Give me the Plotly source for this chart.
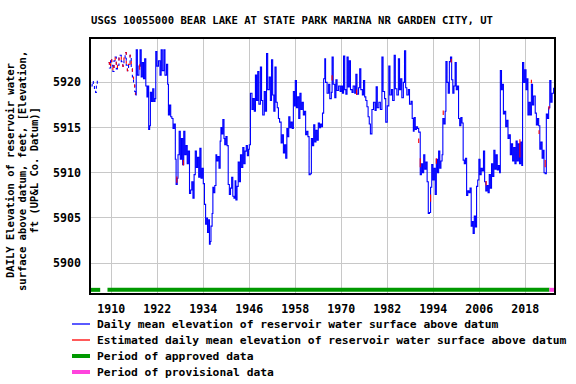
import plotly.graph_objects as go

# ---------------- data ----------------
title_text = "USGS 10055000 BEAR LAKE AT STATE PARK MARINA NR GARDEN CITY, UT"
ylab_lines = ["DAILY Elevation of reservoir water",
              "surface above datum, feet, [Elevation,",
              "ft (UP&L Co. Datum)]"]
legend_labels = ["Daily mean elevation of reservoir water surface above datum",
                 "Estimated daily mean elevation of reservoir water surface above datum",
                 "Period of approved data",
                 "Period of provisional data"]
x_ticks = [1910, 1922, 1934, 1946, 1958, 1970, 1982, 1994, 2006, 2018]
y_ticks = [5900, 5905, 5910, 5915, 5920]

# early sparse record (year, elevation ft)
early_a = [(1904.8, 5919.6), (1905.0, 5920.1), (1905.3, 5919.8), (1905.6, 5919.2),
           (1905.9, 5918.9), (1906.1, 5919.6), (1906.35, 5920.4)]
early_b = [(1909.3, 5922.2), (1909.5, 5921.6), (1909.8, 5922.6), (1910.1, 5921.9),
           (1910.4, 5921.2), (1910.7, 5922.4), (1911.0, 5922.8), (1911.3, 5921.5),
           (1911.6, 5921.9), (1912.0, 5922.7), (1912.3, 5923.0), (1912.6, 5922.3),
           (1913.0, 5921.8), (1913.3, 5922.7), (1913.6, 5923.3), (1913.9, 5921.9),
           (1914.2, 5921.3), (1914.5, 5922.0), (1914.9, 5923.0), (1915.2, 5921.5),
           (1915.5, 5920.6), (1915.8, 5919.7), (1916.1, 5919.0), (1916.3, 5918.6)]

# continuous daily-mean record
main = [
    (1916.3, 5918.6), (1916.5, 5923.6), (1916.8, 5920.8), (1917.2, 5921.8), (1917.5, 5923.6),
    (1917.8, 5920.6), (1918.1, 5922.2), (1918.4, 5920.4), (1918.7, 5922.6), (1919.0, 5919.6),
    (1919.3, 5918.4), (1919.5, 5919.6), (1919.75, 5914.8), (1920.0, 5915.2), (1920.2, 5918.9),
    (1920.5, 5917.9), (1920.8, 5919.3), (1921.1, 5917.9), (1921.4, 5918.2), (1921.6, 5923.4),
    (1921.9, 5921.8), (1922.3, 5922.4), (1922.7, 5920.8), (1923.0, 5923.6), (1923.3, 5921.3),
    (1923.7, 5923.6), (1924.0, 5920.8), (1924.4, 5922.0), (1924.7, 5919.8),
    (1924.9, 5916.4), (1925.2, 5917.5), (1925.5, 5916.2), (1925.8, 5916.0), (1926.1, 5914.9),
    (1926.4, 5915.4), (1926.7, 5911.5), (1926.9, 5908.7), (1927.2, 5909.4), (1927.4, 5912.0),
    (1927.7, 5914.6), (1928.0, 5911.5), (1928.3, 5913.8), (1928.6, 5910.9), (1928.9, 5914.6),
    (1929.2, 5912.0), (1929.5, 5913.0), (1929.8, 5911.0), (1930.1, 5912.4), (1930.4, 5907.7),
    (1930.7, 5908.1), (1931.0, 5909.0), (1931.3, 5907.2), (1931.6, 5909.8), (1931.9, 5912.4),
    (1932.2, 5910.6), (1932.5, 5911.7), (1932.8, 5909.5), (1933.1, 5912.7), (1933.4, 5909.4),
    (1933.7, 5910.5), (1934.0, 5908.8), (1934.3, 5906.5), (1934.6, 5904.3), (1934.9, 5905.0),
    (1935.1, 5903.4), (1935.4, 5904.8), (1935.6, 5902.1), (1935.8, 5902.4), (1936.0, 5904.1),
    (1936.3, 5905.5), (1936.5, 5908.4), (1936.7, 5907.8), (1937.0, 5908.6), (1937.3, 5912.0),
    (1937.5, 5911.3), (1937.8, 5911.8), (1938.1, 5910.5), (1938.4, 5913.5), (1938.6, 5915.0),
    (1938.8, 5914.3), (1939.1, 5915.9), (1939.4, 5913.8), (1939.6, 5913.1), (1939.9, 5914.0),
    (1940.2, 5913.0), (1940.5, 5908.7), (1940.8, 5907.6), (1941.1, 5908.3), (1941.4, 5909.5),
    (1941.7, 5907.4), (1942.0, 5907.2), (1942.3, 5909.1), (1942.5, 5907.0), (1942.8, 5908.5),
    (1943.1, 5911.2), (1943.4, 5909.0), (1943.7, 5912.0), (1944.0, 5910.6), (1944.3, 5912.8),
    (1944.6, 5911.0), (1944.9, 5912.4), (1945.2, 5913.0), (1945.5, 5911.9), (1945.8, 5912.6),
    (1946.0, 5913.1), (1946.3, 5918.8), (1946.7, 5917.0), (1947.0, 5918.2), (1947.3, 5916.8),
    (1947.6, 5920.8), (1947.9, 5918.0), (1948.2, 5921.2), (1948.5, 5917.6), (1948.9, 5921.7),
    (1949.2, 5918.0), (1949.5, 5916.4), (1949.9, 5919.0), (1950.2, 5916.8), (1950.5, 5923.2),
    (1950.8, 5919.2), (1951.2, 5920.6), (1951.5, 5918.0), (1951.8, 5922.5), (1952.1, 5918.6),
    (1952.4, 5916.8), (1952.7, 5921.7), (1953.0, 5917.8), (1953.3, 5917.2), (1953.6, 5916.0),
    (1953.9, 5915.6), (1954.3, 5913.3), (1954.6, 5914.2), (1954.9, 5912.2),
    (1955.2, 5913.1), (1955.5, 5911.6), (1955.8, 5914.9), (1956.0, 5914.0), (1956.3, 5916.2),
    (1956.6, 5915.0), (1956.9, 5915.6), (1957.2, 5914.9), (1957.5, 5919.0), (1957.8, 5917.4),
    (1958.0, 5920.2), (1958.3, 5917.2), (1958.6, 5918.4), (1958.9, 5916.0), (1959.2, 5918.8),
    (1959.5, 5917.0), (1959.8, 5917.8), (1960.1, 5916.4), (1960.4, 5916.8), (1960.7, 5914.2),
    (1961.0, 5914.6), (1961.3, 5914.0), (1961.6, 5909.8), (1961.9, 5909.9), (1962.2, 5913.8),
    (1962.5, 5913.0), (1962.8, 5915.3), (1963.1, 5913.4), (1963.4, 5914.7), (1963.7, 5913.6),
    (1964.0, 5915.5), (1964.3, 5915.0), (1964.6, 5915.4), (1964.9, 5915.1), (1965.1, 5916.6),
    (1965.4, 5920.4), (1965.7, 5922.6), (1965.9, 5920.0), (1966.3, 5918.8), (1966.7, 5919.8),
    (1967.0, 5918.2), (1967.4, 5918.9), (1967.6, 5922.8), (1967.9, 5919.8), (1968.3, 5918.3),
    (1968.6, 5920.3), (1968.9, 5919.1), (1969.3, 5919.6), (1969.7, 5919.0), (1970.0, 5919.6),
    (1970.3, 5918.8), (1970.6, 5922.9), (1970.9, 5919.2), (1971.2, 5918.7), (1971.5, 5922.8),
    (1971.8, 5919.5), (1972.1, 5922.4), (1972.4, 5919.2), (1972.8, 5918.9), (1973.1, 5919.6),
    (1973.5, 5918.8), (1973.8, 5920.9), (1974.1, 5918.7), (1974.5, 5919.4), (1974.8, 5921.5),
    (1975.1, 5919.2), (1975.5, 5918.6), (1975.8, 5920.2), (1976.1, 5918.4), (1976.4, 5918.0),
    (1976.7, 5917.3), (1977.0, 5916.2), (1977.3, 5915.4), (1977.6, 5914.3), (1978.0, 5917.0),
    (1978.4, 5917.8), (1978.8, 5916.9), (1979.1, 5919.5), (1979.4, 5917.2), (1979.8, 5917.8),
    (1980.2, 5917.0), (1980.6, 5922.8), (1980.9, 5919.0), (1981.3, 5918.2), (1981.6, 5915.6),
    (1982.0, 5917.4), (1982.4, 5921.8), (1982.7, 5918.6), (1983.1, 5919.2), (1983.4, 5918.0),
    (1983.8, 5923.0), (1984.1, 5919.3), (1984.5, 5918.6), (1984.9, 5922.6), (1985.2, 5919.2),
    (1985.5, 5920.4), (1985.8, 5918.3), (1986.2, 5920.0), (1986.5, 5923.5), (1986.8, 5919.4),
    (1987.1, 5918.6), (1987.5, 5919.2), (1987.8, 5917.6), (1988.2, 5917.9), (1988.5, 5916.0),
    (1988.8, 5914.6), (1989.0, 5916.1), (1989.3, 5914.8), (1989.6, 5915.1), (1989.9, 5914.9),
    (1990.2, 5914.5), (1990.6, 5909.8), (1990.9, 5911.0), (1991.2, 5910.0), (1991.5, 5912.0),
    (1991.8, 5910.4), (1992.1, 5911.2), (1992.4, 5909.0), (1992.7, 5905.5), (1993.0, 5905.6),
    (1993.3, 5908.4), (1993.6, 5910.9), (1993.9, 5909.2), (1994.2, 5910.5), (1994.5, 5907.6),
    (1994.8, 5911.5), (1995.1, 5910.0), (1995.4, 5912.4), (1995.7, 5910.5), (1996.0, 5911.3),
    (1996.3, 5912.0), (1996.5, 5916.0), (1996.8, 5915.4), (1997.1, 5916.8), (1997.3, 5922.3),
    (1997.6, 5920.0), (1997.9, 5918.8), (1998.2, 5922.3), (1998.5, 5922.8), (1998.8, 5920.3),
    (1999.1, 5918.8), (1999.4, 5919.6), (1999.7, 5922.2), (2000.0, 5919.2), (2000.3, 5919.6),
    (2000.6, 5916.0), (2000.9, 5915.2), (2001.2, 5916.1), (2001.5, 5915.5), (2001.8, 5911.4),
    (2002.1, 5911.0), (2002.4, 5911.6), (2002.7, 5907.5), (2003.0, 5908.0), (2003.3, 5907.8),
    (2003.6, 5908.3), (2003.9, 5904.1), (2004.2, 5904.6), (2004.4, 5903.3), (2004.7, 5905.2),
    (2005.0, 5904.0), (2005.3, 5908.5), (2005.6, 5909.2), (2005.9, 5911.5), (2006.2, 5909.8),
    (2006.5, 5910.5), (2006.8, 5910.2), (2007.1, 5912.4), (2007.4, 5909.0), (2007.7, 5908.0),
    (2008.0, 5908.6), (2008.3, 5907.8), (2008.6, 5909.8), (2008.9, 5908.3), (2009.2, 5911.0),
    (2009.5, 5909.6), (2009.8, 5912.5), (2010.1, 5910.4), (2010.4, 5912.0), (2010.7, 5910.3),
    (2011.0, 5910.8), (2011.3, 5910.0), (2011.5, 5921.3), (2011.8, 5919.2), (2012.0, 5919.8),
    (2012.3, 5916.5), (2012.6, 5916.8), (2012.9, 5915.1), (2013.2, 5915.8), (2013.5, 5913.8),
    (2013.8, 5914.2), (2014.1, 5912.0), (2014.4, 5913.2), (2014.7, 5911.3), (2015.0, 5912.8),
    (2015.3, 5911.0), (2015.6, 5913.5), (2015.9, 5911.3), (2016.2, 5913.2), (2016.5, 5911.0),
    (2016.8, 5913.4), (2017.1, 5910.8), (2017.3, 5922.2), (2017.6, 5920.0), (2017.9, 5921.4),
    (2018.2, 5919.2), (2018.5, 5920.4), (2018.7, 5916.4), (2019.0, 5917.8), (2019.3, 5916.4),
    (2019.6, 5919.8), (2019.9, 5917.5), (2020.2, 5918.5), (2020.6, 5916.6), (2020.9, 5915.3),
    (2021.2, 5916.0), (2021.5, 5915.2), (2021.8, 5912.6), (2022.1, 5913.4), (2022.4, 5911.6),
    (2022.7, 5912.5), (2022.9, 5910.0), (2023.2, 5909.9), (2023.5, 5916.5), (2023.8, 5916.0),
    (2024.1, 5917.2), (2024.4, 5920.2), (2024.7, 5917.8), (2025.0, 5918.8), (2025.4, 5919.4),
]

# estimated (red) short segments outside the early record: (year, low, high)
estimated_marks = [(1917.4, 5921.4, 5922.0), (1927.1, 5908.9, 5909.6), (1928.8, 5910.8, 5911.4),
                   (1967.6, 5920.2, 5920.8), (1974.0, 5918.6, 5919.2), (1990.2, 5913.3, 5913.8),
                   (1990.6, 5910.6, 5911.6), (1993.3, 5906.8, 5907.6), (1994.8, 5911.0, 5911.6),
                   (1996.6, 5916.4, 5916.9), (1998.7, 5922.2, 5922.6), (2007.8, 5908.6, 5909.1),
                   (2016.6, 5911.7, 5913.7), (2019.6, 5919.9, 5920.3), (2021.6, 5914.3, 5914.7),
                   (2023.2, 5910.6, 5911.4), (2024.2, 5917.0, 5917.4)]

approved_periods = [(1904.2, 1907.1), (1909.0, 2024.3)]
provisional_periods = [(2024.3, 2025.6)]
period_level = 5897.05

# ---------------- build figure ----------------
BLUE, RED, GREEN, MAG = "#0000ff", "#ff0000", "#009900", "#ff44dd"
FONT = "DejaVu Sans Mono"
W, H = 576, 384
L, R, T, B = 91, 22, 39, 91
PW, PH = W - L - R, H - T - B


def pxx(px):
    return (px - L) / PW


def pxy(py):
    return (H - B - py) / PH


def unzip(pairs):
    return [p[0] for p in pairs], [p[1] for p in pairs]


fig = go.Figure()
ax, ay = unzip(early_a)
bx, by = unzip(early_b)
mx, my = unzip(main)

fig.add_trace(go.Scatter(x=ax + [None] + bx, y=ay + [None] + by, mode="lines",
                         line=dict(color=BLUE, width=1.1, dash="dot", shape="hv"),
                         showlegend=False, hoverinfo="skip"))
fig.add_trace(go.Scatter(x=bx, y=by, mode="lines",
                         line=dict(color=RED, width=1.1, dash="3px,6px", shape="hv"),
                         showlegend=False, hoverinfo="skip"))
fig.add_trace(go.Scatter(x=mx, y=my, mode="lines",
                         line=dict(color=BLUE, width=1.1, shape="hv"),
                         showlegend=False, hoverinfo="skip"))
rx, ry = [], []
for t, lo, hi in estimated_marks:
    rx += [t, t, None]
    ry += [lo, hi, None]
fig.add_trace(go.Scatter(x=rx, y=ry, mode="lines", line=dict(color=RED, width=1.1),
                         showlegend=False, hoverinfo="skip"))
gx, gy = [], []
for s, e in approved_periods:
    gx += [s, e, None]
    gy += [period_level, period_level, None]
fig.add_trace(go.Scatter(x=gx, y=gy, mode="lines", line=dict(color=GREEN, width=4),
                         showlegend=False, hoverinfo="skip", cliponaxis=False))
qx, qy = [], []
for s, e in provisional_periods:
    qx += [s, e, None]
    qy += [period_level, period_level, None]
fig.add_trace(go.Scatter(x=qx, y=qy, mode="lines", line=dict(color=MAG, width=4),
                         showlegend=False, hoverinfo="skip", cliponaxis=False))

# y-axis title as three rotated lines
for line, xpix in zip(ylab_lines, [10, 22, 33.5]):
    fig.add_annotation(text=line, xref="paper", yref="paper", x=pxx(xpix), y=pxy(171),
                       textangle=-90, showarrow=False, xanchor="center", yanchor="middle",
                       font=dict(family=FONT, size=10.5, color="black", weight="bold"))

# manual legend below the plot
legend_colors = [BLUE, RED, GREEN, MAG]
legend_widths = [1.3, 1.3, 4, 4]
for i, (lab, col, lw) in enumerate(zip(legend_labels, legend_colors, legend_widths)):
    ypix = 324 + 16 * i
    fig.add_shape(type="line", xref="paper", yref="paper", x0=pxx(72), x1=pxx(90),
                  y0=pxy(ypix), y1=pxy(ypix), line=dict(color=col, width=lw))
    fig.add_annotation(text=lab, xref="paper", yref="paper", x=pxx(95), y=pxy(ypix),
                       xanchor="left", yanchor="middle", showarrow=False,
                       font=dict(family=FONT, size=11.3, color="black", weight="bold"))

fig.update_layout(
    width=W, height=H,
    margin=dict(l=L, r=R, t=T, b=B, autoexpand=False),
    paper_bgcolor="white", plot_bgcolor="white",
    title=dict(text=title_text, x=(292 / W), xanchor="center", y=1 - 20 / H, yanchor="middle",
               font=dict(family=FONT, size=10.6, color="black", weight="bold")),
    font=dict(family=FONT, size=11.6, color="black", weight="bold"),
    showlegend=False,
    xaxis=dict(range=[1904.7, 2025.5], tickmode="array", tickvals=x_ticks,
               ticktext=[str(v) for v in x_ticks], showgrid=True, gridcolor="#c8c8c8", gridwidth=1,
               zeroline=False, showline=True, linecolor="black", linewidth=1.5, mirror=True,
               ticks="", ticklabelstandoff=4),
    yaxis=dict(range=[5896.7, 5924.8], tickmode="array", tickvals=y_ticks,
               ticktext=[str(v) for v in y_ticks], showgrid=True, gridcolor="#c8c8c8", gridwidth=1,
               zeroline=False, showline=True, linecolor="black", linewidth=1.5, mirror=True,
               ticks="", ticklabelstandoff=6),
)

fig.write_html("out.html", config={"displayModeBar": False},
               post_script="document.body.style.margin='0px';document.body.style.overflow='hidden';")
